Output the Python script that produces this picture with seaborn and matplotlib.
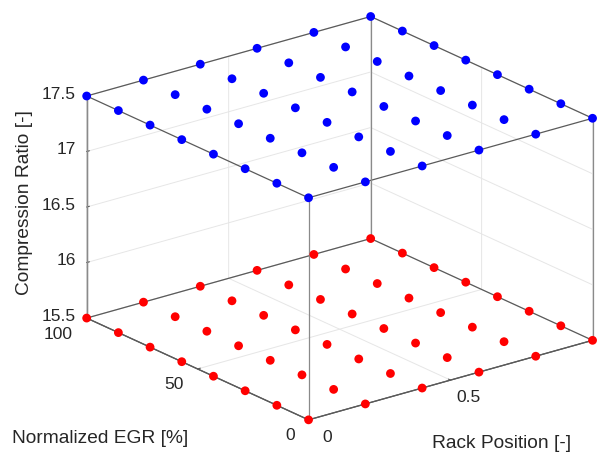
import numpy as np
import pandas as pd
import seaborn as sns
import matplotlib.pyplot as plt

# grid of operating points
rack_position = [0.0, 0.2, 0.4, 0.6, 0.8, 1.0]
egr_norm = [0.0, 14.29, 28.57, 42.86, 57.14, 71.43, 85.71, 100.0]
cr_low = 15.5
cr_high = 17.5

rack_ticks = [0, 0.5]
rack_ticklabels = ['0', '0.5']
egr_ticks = [0, 50, 100]
egr_ticklabels = ['0', '50', '100']
cr_ticks = [15.5, 16, 16.5, 17, 17.5]
cr_ticklabels = ['15.5', '16', '16.5', '17', '17.5']

sns.set_style("white")
plt.rcParams['font.family'] = ['Liberation Sans', 'DejaVu Sans']

rr, ee = np.meshgrid(rack_position, egr_norm)
df = pd.DataFrame({"rack": rr.ravel(), "egr": ee.ravel()})

fig = plt.figure(figsize=(6.03, 4.55), dpi=100)
ax = fig.add_subplot(111, projection='3d', computed_zorder=False)
ax.set_position([0.053, 0.007, 1.0, 1.0])
ax.set_proj_type('ortho')
ax.view_init(elev=21, azim=-128)
ax.set_box_aspect((1, 1, 0.66), zoom=1.2)

x0, x1 = min(rack_position), max(rack_position)
y0, y1 = min(egr_norm), max(egr_norm)
z0, z1 = cr_low, cr_high

# box edges (MATLAB "box on")
edge_col = '#5a5a5a'
for z in (z0, z1):
    ax.plot([x0, x1], [y0, y0], [z, z], color=edge_col, lw=0.9, zorder=2, clip_on=False)
    ax.plot([x0, x0], [y0, y1], [z, z], color=edge_col, lw=0.9, zorder=2, clip_on=False)
    ax.plot([x1, x1], [y0, y1], [z, z], color=edge_col, lw=0.9, zorder=2, clip_on=False)
    ax.plot([x0, x1], [y1, y1], [z, z], color=edge_col, lw=0.9, zorder=2, clip_on=False)
for x, y in [(x0, y0), (x1, y0), (x0, y1), (x1, y1)]:
    ax.plot([x, x], [y, y], [z0, z1], color='#8a8a8a', lw=0.9, zorder=2, clip_on=False)

ax.scatter(df["rack"], df["egr"], np.full(len(df), cr_low), c='#ff0000', s=40,
           depthshade=False, edgecolors='none', alpha=1, zorder=5, clip_on=False)
ax.scatter(df["rack"], df["egr"], np.full(len(df), cr_high), c='#0000ff', s=40,
           depthshade=False, edgecolors='none', alpha=1, zorder=5, clip_on=False)

ax.set_xlim(x0, x1)
ax.set_ylim(y0, y1)
ax.set_zlim(z0, z1)

ax.set_xticks(rack_ticks)
ax.set_yticks(egr_ticks)
ax.set_zticks(cr_ticks)
# tick labels are placed by hand below (MATLAB-like placement)
ax.set_xticklabels([])
ax.set_yticklabels([])
ax.set_zticklabels([])

for axis in (ax.xaxis, ax.yaxis, ax.zaxis):
    axis.set_pane_color((1, 1, 1, 0))
    axis.pane.set_edgecolor('none')
    axis.line.set_color('#5a5a5a')
    axis.line.set_linewidth(0.9)
    axis._axinfo['grid']['color'] = '#e6e6e6'
    axis._axinfo['grid']['linewidth'] = 0.7
    axis._axinfo['tick']['inward_factor'] = 0.0
    axis._axinfo['tick']['outward_factor'] = 0.12
ax.tick_params(colors='#5a5a5a')

tk = dict(fontsize=12.5, color='#262626')
xr, yr = x1 - x0, y1 - y0
for v, s in zip(rack_ticks, rack_ticklabels):
    ax.text(v - 0.045 * xr, y0 - 0.14 * yr, z0, s, ha='center', va='center', **tk)
for v, s in zip(egr_ticks, egr_ticklabels):
    ax.text(x0 - 0.106 * xr, v - 0.074 * yr, z0, s, ha='right', va='center', **tk)
for v, s in zip(cr_ticks, cr_ticklabels):
    ax.text(x0 - 0.015 * xr, y1 + 0.031 * yr, v, s, ha='right', va='center', **tk)

txt = dict(fontsize=13.75, color='#262626')
fig.text(0.02, 0.037, 'Normalized EGR [%]', ha='left', va='center', **txt)
fig.text(0.716, 0.026, 'Rack Position [-]', ha='left', va='center', **txt)
fig.text(0.041, 0.554, 'Compression Ratio [-]', ha='center', va='center',
         rotation=90, **txt)

fig.savefig('out.png', dpi=100)
